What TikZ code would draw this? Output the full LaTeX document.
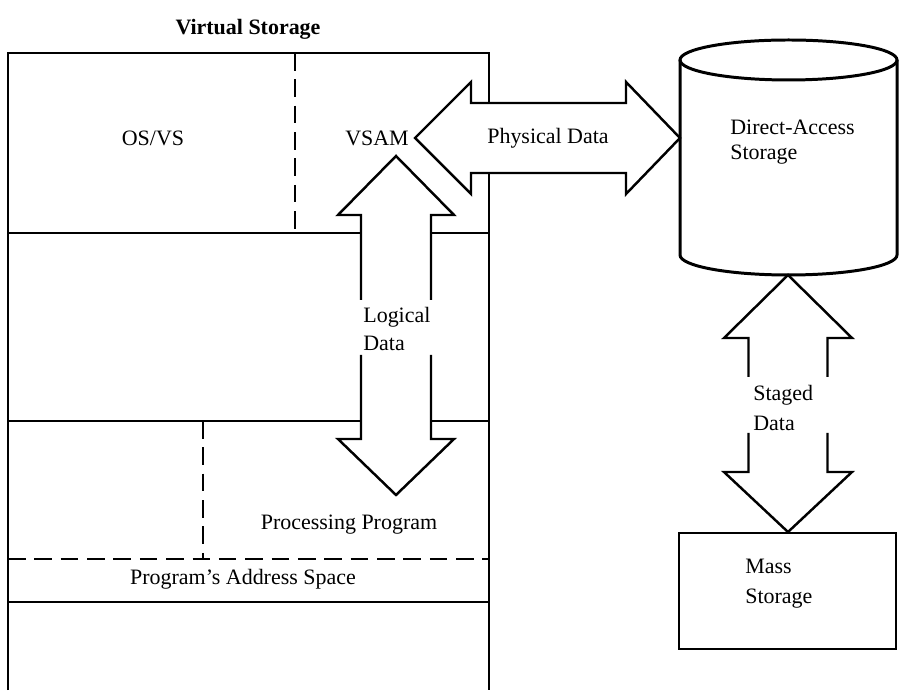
\documentclass[tikz,border=0pt]{standalone}
\usepackage{fontspec}
\setmainfont{Liberation Serif}
\tikzset{
wall/.style={line width=1.4pt},
split/.style={line width=1.4pt, dash pattern=on 10pt off 5pt},
blockarrow/.style={line width=1.4pt, line join=miter},
txt/.style={inner sep=0pt, font=\fontsize{12.5}{15}\selectfont},
txtl/.style={txt, anchor=west, align=left}
}

\begin{document}
\begin{tikzpicture}
\useasboundingbox (0,0) rectangle (18.02,13.8);
% virtual storage
\node[txt, font=\fontsize{12.5}{15}\selectfont\bfseries] (title) at (4.96,13.22) {Virtual Storage};
\draw[wall] (0.16,0) -- (0.16,12.74) -- (9.78,12.74) -- (9.78,11.74);
\draw[wall] (9.78,10.34) -- (9.78,0);
\draw[wall] (0.16,9.14) -- (7.22,9.14);
\draw[wall] (8.62,9.14) -- (9.78,9.14);
\draw[wall] (0.16,5.38) -- (7.22,5.38);
\draw[wall] (8.62,5.38) -- (9.78,5.38);
\draw[wall] (0.16,1.76) -- (9.78,1.76);
\draw[split] (5.9,12.74) -- (5.9,9.14);
\draw[split] (4.06,5.38) -- (4.06,2.62);
\draw[split] (0.16,2.62) -- (9.78,2.62);
\node[txt] (osvs) at (3.06,11.04) {OS/VS};
\node[txt] (vsam) at (7.54,11.04) {VSAM};
\node[txt] (proc) at (6.98,3.3) {Processing Program};
\node[txt] (space) at (4.86,2.22) {Program's Address Space};
% logical data
\draw[blockarrow] (7.22,7.8) -- (7.22,9.5) -- (6.76,9.5) -- (7.92,10.68) -- (9.08,9.5) -- (8.62,9.5) -- (8.62,7.8);
\draw[blockarrow] (7.22,6.7) -- (7.22,5.02) -- (6.76,5.02) -- (7.92,3.9) -- (9.08,5.02) -- (8.62,5.02) -- (8.62,6.7);
\node[txtl, font=\fontsize{12.5}{15.5}\selectfont] (logical) at (7.26,7.22) {Logical\\Data};
% physical data
\draw[blockarrow] (8.3,11.04) -- (9.42,12.16) -- (9.42,11.74) -- (12.52,11.74) -- (12.52,12.16) -- (13.6,11.04)
  -- (12.52,9.92) -- (12.52,10.34) -- (9.42,10.34) -- (9.42,9.92) -- cycle;
\node[txt] (physical) at (10.96,11.04) {Physical Data};
% direct-access storage
\draw[wall, line width=1.7pt] (15.77,12.6) ellipse [x radius=2.17, y radius=0.4];
\draw[wall, line width=1.7pt] (13.6,12.6) -- (13.6,8.7) arc [start angle=180, end angle=360, x radius=2.17, y radius=0.4] -- (17.94,12.6);
\node[txtl, font=\fontsize{12.5}{13.8}\selectfont] (das) at (14.6,10.96) {Direct-Access\\Storage};
% staged data
\draw[blockarrow] (14.97,6.26) -- (14.97,7.04) -- (14.48,7.04) -- (15.76,8.3) -- (17.04,7.04) -- (16.55,7.04) -- (16.55,6.26);
\draw[blockarrow] (14.97,5.14) -- (14.97,4.36) -- (14.48,4.36) -- (15.76,3.16) -- (17.04,4.36) -- (16.55,4.36) -- (16.55,5.14);
\node[txtl, font=\fontsize{12.5}{17}\selectfont] (staged) at (15.06,5.64) {Staged\\Data};
% mass storage
\draw[wall] (13.58,0.82) rectangle (17.92,3.14);
\node[txtl, font=\fontsize{12.5}{17}\selectfont] (mass) at (14.9,2.12) {Mass\\Storage};
\end{tikzpicture}
\end{document}
